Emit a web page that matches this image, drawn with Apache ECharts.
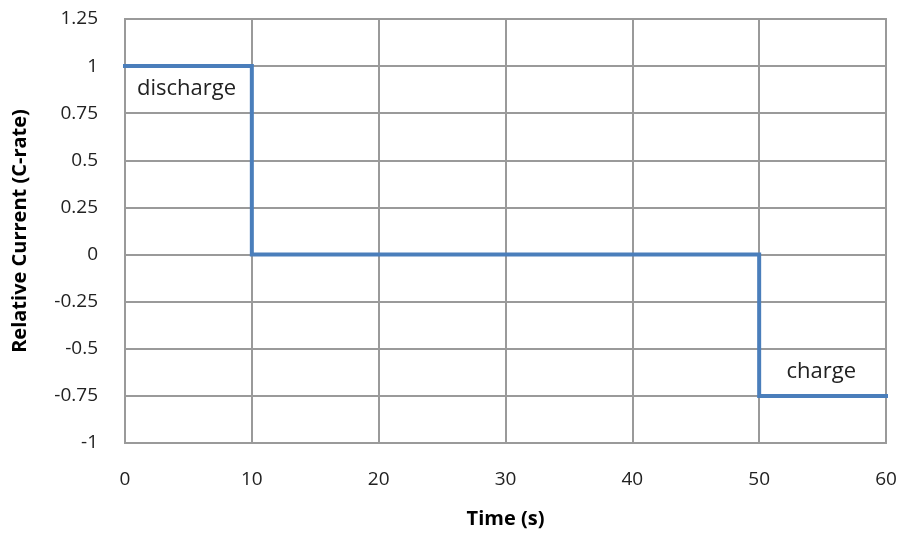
<!DOCTYPE html>
<html>
<head>
<meta charset="utf-8">
<script src="https://cdn.jsdelivr.net/npm/echarts@6/dist/echarts.min.js"></script>
<style>
  html, body { margin: 0; padding: 0; background: #fff; }
  #chart { width: 904px; height: 533px; }
</style>
</head>
<body>
<div id="chart"></div>
<script>
// Step profile of the relative current over time
const times = [0, 10, 10, 50, 50, 60];
const currents = [1, 1, 0, 0, -0.75, -0.75];

// Phase annotations placed in data coordinates
const phaseNames = ['discharge', 'charge'];
const phaseTimes = [4.85, 54.9];
const phaseLevels = [0.88, -0.62];

const FONT = '"Open Sans", sans-serif';
const GRID = '#9a9a9a';

const chart = echarts.init(document.getElementById('chart'));
chart.setOption({
  animation: false,
  backgroundColor: '#fff',
  grid: {
    left: 125, right: 18, top: 19, bottom: 90,
    outerBoundsMode: 'none', containLabel: false,
    show: true, borderColor: GRID, borderWidth: 2
  },
  xAxis: {
    type: 'value', min: 0, max: 60, interval: 10,
    name: 'Time (s)', nameLocation: 'middle', nameGap: 66,
    nameTextStyle: { fontFamily: FONT, fontWeight: 'bold', fontSize: 20, color: '#000' },
    axisLine: { show: false }, axisTick: { show: false },
    axisLabel: { fontFamily: FONT, fontSize: 19, color: '#222', margin: 27 },
    splitLine: { show: true, lineStyle: { color: GRID, width: 2 } }
  },
  yAxis: {
    type: 'value', min: -1, max: 1.25, interval: 0.25,
    name: 'Relative Current (C-rate)', nameLocation: 'middle', nameGap: 95,
    nameTextStyle: { fontFamily: FONT, fontWeight: 'bold', fontSize: 20, color: '#000' },
    axisLine: { show: false }, axisTick: { show: false },
    axisLabel: { fontFamily: FONT, fontSize: 19, color: '#222', margin: 27 },
    splitLine: { show: true, lineStyle: { color: GRID, width: 2 } }
  },
  series: [{
    type: 'line',
    data: times.map((t, i) => [t, currents[i]]),
    showSymbol: false,
    lineStyle: { color: '#4a7ebb', width: 4, join: 'miter', cap: 'square' },
    markPoint: {
      symbol: 'circle', symbolSize: 0,
      label: { show: true, position: 'inside', fontFamily: FONT, fontSize: 22, color: '#222', formatter: p => p.name },
      data: phaseNames.map((n, i) => ({ name: n, coord: [phaseTimes[i], phaseLevels[i]] }))
    }
  }]
});
</script>
</body>
</html>
